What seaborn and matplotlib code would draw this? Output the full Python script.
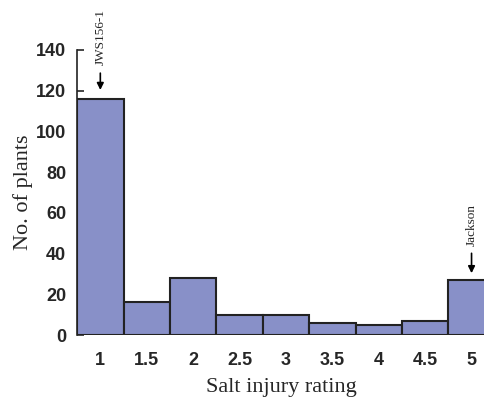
import matplotlib
matplotlib.use("Agg")
import matplotlib.pyplot as plt
import seaborn as sns

# Salt injury rating distribution
ratings = ["1", "1.5", "2", "2.5", "3", "3.5", "4", "4.5", "5"]
counts = [116, 16, 28, 10, 10, 6, 5, 7, 27]
y_ticks = [0, 20, 40, 60, 80, 100, 120, 140]

bar_color = "#8890c8"
tick_font = ["Liberation Sans", "DejaVu Sans"]
serif_font = ["Liberation Serif", "DejaVu Serif"]

sns.set_style("white")
fig = plt.figure(figsize=(4.85, 4.0), dpi=100)
ax = fig.add_axes([0.159, 0.1625, 0.841, 0.7125])

sns.barplot(x=ratings, y=counts, color=bar_color, saturation=1, width=1,
            edgecolor="#222222", linewidth=1.5, ax=ax)

ax.set_ylim(0, 140)
ax.set_xlim(-0.5, 8.29)
ax.set_yticks(y_ticks)
ax.tick_params(axis="y", direction="in", length=5, width=1.2, left=True, pad=8)
ax.tick_params(axis="x", length=0, pad=12)
for lab in ax.get_xticklabels() + ax.get_yticklabels():
    lab.set_family(tick_font)
    lab.set_fontsize(13)
    lab.set_fontweight("bold")

for s in ["top", "right", "bottom"]:
    ax.spines[s].set_visible(False)
ax.spines["left"].set_color("#222222")
ax.spines["left"].set_linewidth(1.2)

ax.set_ylabel("No. of plants", family=serif_font, fontsize=16, labelpad=2)
ax.set_xlabel("Salt injury rating", family=serif_font, fontsize=16, labelpad=7)

# cultivar markers
arrow = dict(arrowstyle="-|>", color="black", lw=1.2, mutation_scale=10)
ax.annotate("", xy=(0, 119), xytext=(0, 130), arrowprops=arrow, annotation_clip=False)
ax.text(0, 132.5, "JWS156-1", rotation=90, ha="center", va="bottom",
        family=serif_font, fontsize=9.5, clip_on=False)
ax.annotate("", xy=(8, 29), xytext=(8, 41.5), arrowprops=arrow, annotation_clip=False)
ax.text(8, 43.5, "Jackson", rotation=90, ha="center", va="bottom",
        family=serif_font, fontsize=9.5, clip_on=False)

fig.savefig("out.png", dpi=100)
